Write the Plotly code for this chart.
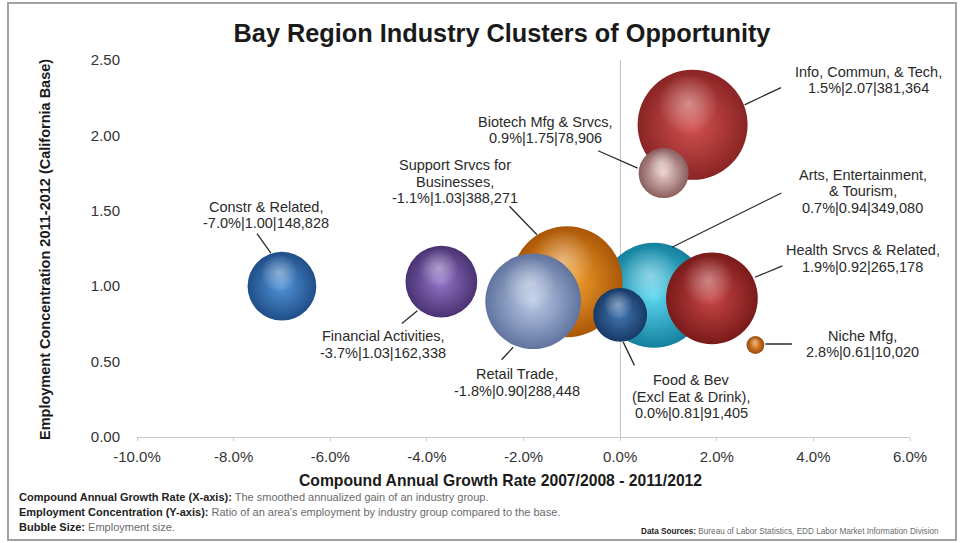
import numpy as np
import plotly.graph_objects as go

# ---- data -------------------------------------------------------------
clusters = [
    "Constr & Related",
    "Financial Activities",
    "Info, Commun, & Tech",
    "Biotech Mfg & Srvcs",
    "Arts, Entertainment, & Tourism",
    "Support Srvcs for Businesses",
    "Retail Trade",
    "Food & Bev (Excl Eat & Drink)",
    "Health Srvcs & Related",
    "Niche Mfg",
]
growth_pct = [-7.0, -3.7, 1.5, 0.9, 0.7, -1.1, -1.8, 0.0, 1.9, 2.8]
concentration = [1.00, 1.03, 2.07, 1.75, 0.94, 1.03, 0.90, 0.81, 0.92, 0.61]
employment = [148828, 162338, 381364, 78906, 349080, 388271, 288448, 91405, 265178, 10020]

x_ticks = [-10, -8, -6, -4, -2, 0, 2, 4, 6]
x_tick_text = ["-10.0%", "-8.0%", "-6.0%", "-4.0%", "-2.0%", "0.0%", "2.0%", "4.0%", "6.0%"]
y_ticks = [0, 0.5, 1.0, 1.5, 2.0, 2.5]
y_tick_text = ["0.00", "0.50", "1.00", "1.50", "2.00", "2.50"]

# ---- styling ------------------------------------------------------------
FONT = "Liberation Sans, Arial, sans-serif"
NARROW = "Liberation Sans Narrow, Arial Narrow, Liberation Sans, sans-serif"
LABEL_SIZE = 14.5
LINE_H = 16.5

# how each cluster name is broken over lines in its label
label_lines = {
    "Arts, Entertainment, & Tourism": ["Arts, Entertainment,", "& Tourism,"],
    "Support Srvcs for Businesses": ["Support Srvcs for", "Businesses,"],
    "Food & Bev (Excl Eat & Drink)": ["Food & Bev", "(Excl Eat & Drink),"],
}

# sphere colours: (edge, centre)
sphere_colors = {
    "Constr & Related": ("#1f4e88", "#5294da"),
    "Financial Activities": ("#4a3272", "#9276c8"),
    "Info, Commun, & Tech": ("#8a2424", "#d45252"),
    "Biotech Mfg & Srvcs": ("#8a5e5e", "#ecd0cc"),
    "Arts, Entertainment, & Tourism": ("#14809e", "#5cd8f0"),
    "Support Srvcs for Businesses": ("#aa5606", "#f8a634"),
    "Retail Trade": ("#60749e", "#bccce8"),
    "Food & Bev (Excl Eat & Drink)": ("#173a66", "#4276b2"),
    "Health Srvcs & Related": ("#7a1a1a", "#c84646"),
    "Niche Mfg": ("#9a4808", "#f29c42"),
}

# label placement, in pixels from the bubble centre (right, down):
# text centre, leader-line start (at the text) and leader-line end (at the sphere)
label_offsets = {
    "Constr & Related": ((-16, -71), (-26, -54), (-11, -33)),
    "Financial Activities": ((-58, 63), (-41, 43), (-24, 29)),
    "Info, Commun, & Tech": ((176, -45), (90, -38), (52, -20)),
    "Biotech Mfg & Srvcs": ((-118, -43), (-67, -23), (-26, -5)),
    "Arts, Entertainment, & Tourism": ((209, -104), (129, -103), (18, -48)),
    "Support Srvcs for Businesses": ((-112, -100), (-59, -77), (-30, -47)),
    "Retail Trade": ((-16, 81), (-33, 60), (-20, 46)),
    "Food & Bev (Excl Eat & Drink)": ((71, 82), (15, 52), (3, 27)),
    "Health Srvcs & Related": ((151, -40), (72, -33), (43, -21)),
    "Niche Mfg": ((107, -1), (38, -1), (10, -1)),
}

W, H = 961, 543
M = dict(l=137, r=51, t=60, b=106)
X_RANGE = [-10, 6]
Y_RANGE = [0, 2.5]
PW = W - M["l"] - M["r"]
PH = H - M["t"] - M["b"]
px_per_x = PW / (X_RANGE[1] - X_RANGE[0])
px_per_y = PH / (Y_RANGE[1] - Y_RANGE[0])

MAX_DIAMETER = 111
sizeref = 2.0 * max(employment) / MAX_DIAMETER ** 2


def bubble_radius(v):
    # plotly area sizing: diameter = sqrt(2 * v / sizeref)
    return np.sqrt(2.0 * v / sizeref) / 2.0


def paper_x(px):
    return (px - M["l"]) / PW


def paper_y(py):
    return (H - M["b"] - py) / PH


fig = go.Figure()

for name, gx, cy, emp in zip(clusters, growth_pct, concentration, employment):
    edge, centre = sphere_colors[name]
    r = bubble_radius(emp)
    fig.add_trace(go.Scatter(
        x=[gx], y=[cy], mode="markers",
        marker=dict(size=[emp], sizemode="area", sizeref=sizeref, opacity=1,
                    color=edge, gradient=dict(type="radial", color=centre),
                    line=dict(width=0)),
        name=name, showlegend=False, hoverinfo="skip",
    ))
    # soft specular highlight towards the top of the sphere
    fig.add_trace(go.Scatter(
        x=[gx - 0.08 * r / px_per_x], y=[cy + 0.38 * r / px_per_y], mode="markers",
        marker=dict(size=[emp * 0.3], sizemode="area", sizeref=sizeref, opacity=1,
                    color="rgba(255,255,255,0)",
                    gradient=dict(type="radial", color="rgba(255,255,255,0.4)"),
                    line=dict(width=0)),
        showlegend=False, hoverinfo="skip",
    ))

annotations = []
for name, gx, cy, emp in zip(clusters, growth_pct, concentration, employment):
    lines = label_lines.get(name, [name + ","])
    stats = f"{gx:.1f}%|{cy:.2f}|{emp:,}"
    lines = lines + [stats]
    (tdx, tdy), (sx, sy), (ex, ey) = label_offsets[name]
    n = len(lines)
    for i, line in enumerate(lines):
        annotations.append(dict(
            x=gx, y=cy, xref="x", yref="y", text=line, showarrow=False,
            xshift=tdx, yshift=-(tdy + (i - (n - 1) / 2) * LINE_H),
            xanchor="center", yanchor="middle",
            font=dict(family=FONT, size=LABEL_SIZE, color="#2a2a2a"),
        ))
    # leader line from the text to the sphere's rim
    annotations.append(dict(
        x=gx, y=cy, xref="x", yref="y", text="", showarrow=True,
        xshift=ex, yshift=-ey, ax=sx - ex, ay=sy - ey,
        arrowhead=0, arrowwidth=1.3, arrowcolor="#2a2a2a",
        standoff=0, font=dict(size=1),
    ))

# axis titles
annotations.append(dict(
    xref="paper", yref="paper", x=paper_x(500), y=paper_y(480),
    text="<b>Compound Annual Growth Rate 2007/2008 - 2011/2012</b>",
    showarrow=False, xanchor="center", yanchor="middle",
    font=dict(family=FONT, size=15.7, color="#1a1a1a"),
))
annotations.append(dict(
    xref="paper", yref="paper", x=paper_x(45), y=paper_y(250),
    text="<b>Employment Concentration 2011-2012 (California Base)</b>",
    textangle=-90, showarrow=False, xanchor="center", yanchor="middle",
    font=dict(family=FONT, size=14.5, color="#1a1a1a"),
))

# notes under the chart
notes = [
    ("Compound Annual Growth Rate (X-axis):", "The smoothed annualized gain of an industry group.", 497),
    ("Employment Concentration (Y-axis):", "Ratio of an area's employment by industry group compared to the base.", 512),
    ("Bubble Size:", "Employment size.", 527),
]
for head, body, py in notes:
    annotations.append(dict(
        xref="paper", yref="paper", x=paper_x(17), y=paper_y(py),
        text=f"<b>{head}</b> <span style='color:#6a6a6a'>{body}</span>",
        showarrow=False, xanchor="left", yanchor="middle",
        font=dict(family=FONT, size=11, color="#222222"),
    ))
annotations.append(dict(
    xref="paper", yref="paper", x=paper_x(941), y=paper_y(531),
    text="<b>Data Sources:</b> <span style='color:#6a6a6a'>Bureau of Labor Statistics, EDD Labor Market Information Division</span>",
    showarrow=False, xanchor="right", yanchor="middle",
    font=dict(family=NARROW, size=8.2, color="#222222"),
))

# outer frame around the whole graphic
shapes = [dict(
    type="rect", xref="paper", yref="paper",
    x0=paper_x(8), x1=paper_x(956), y0=paper_y(540), y1=paper_y(3),
    line=dict(color="#a2a2a2", width=2), fillcolor="rgba(0,0,0,0)", layer="below",
)]

fig.update_layout(
    width=W, height=H, margin=M,
    paper_bgcolor="white", plot_bgcolor="white",
    title=dict(text="<b>Bay Region Industry Clusters of Opportunity</b>",
               x=502 / W, xanchor="center",
               y=1 - 33 / H, yanchor="middle",
               font=dict(family=FONT, size=25.3, color="#1a1a1a")),
    xaxis=dict(range=X_RANGE, tickvals=x_ticks, ticktext=x_tick_text,
               showgrid=False, zeroline=True, zerolinecolor="#c4c4c4", zerolinewidth=1,
               showline=True, linecolor="#c8c8c8", linewidth=1,
               ticks="outside", ticklen=3, tickcolor="#cccccc",
               ticklabelstandoff=3,
               tickfont=dict(family=FONT, size=15, color="#333333")),
    yaxis=dict(range=Y_RANGE, tickvals=y_ticks, ticktext=y_tick_text,
               showgrid=False, zeroline=False, showline=False, ticks="",
               ticklabelstandoff=16,
               tickfont=dict(family=FONT, size=15, color="#333333")),
    annotations=annotations,
    shapes=shapes,
)

fig.write_html("out.html")
